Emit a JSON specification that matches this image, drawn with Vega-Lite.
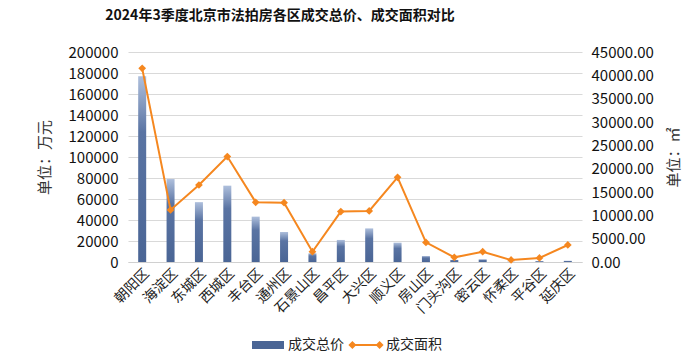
{
  "$schema": "https://vega.github.io/schema/vega-lite/v6.json",
  "width": 454,
  "height": 210,
  "autosize": "none",
  "padding": {"left": 128, "top": 52, "right": 118, "bottom": 102},
  "background": "white",
  "config": {
    "font": "Noto Sans CJK SC",
    "view": {"stroke": null},
    "axis": {"labelColor": "#333333", "titleColor": "#333333", "labelFont": "Noto Sans CJK SC", "titleFont": "Noto Sans CJK SC"}
  },
  "title": {
    "text": "2024年3季度北京市法拍房各区成交总价、成交面积对比",
    "fontSize": 14,
    "fontWeight": "bold",
    "color": "#111111",
    "anchor": "middle",
    "dx": -75,
    "offset": 22
  },
  "data": {
    "values": [
      {"区": "朝阳区", "系列": "成交总价", "值": 177000},
      {"区": "海淀区", "系列": "成交总价", "值": 79000},
      {"区": "东城区", "系列": "成交总价", "值": 57000},
      {"区": "西城区", "系列": "成交总价", "值": 72700},
      {"区": "丰台区", "系列": "成交总价", "值": 43200},
      {"区": "通州区", "系列": "成交总价", "值": 28600},
      {"区": "石景山区", "系列": "成交总价", "值": 8300},
      {"区": "昌平区", "系列": "成交总价", "值": 21000},
      {"区": "大兴区", "系列": "成交总价", "值": 32000},
      {"区": "顺义区", "系列": "成交总价", "值": 18400},
      {"区": "房山区", "系列": "成交总价", "值": 5700},
      {"区": "门头沟区", "系列": "成交总价", "值": 2000},
      {"区": "密云区", "系列": "成交总价", "值": 2600},
      {"区": "怀柔区", "系列": "成交总价", "值": 300},
      {"区": "平谷区", "系列": "成交总价", "值": 800},
      {"区": "延庆区", "系列": "成交总价", "值": 1200},
      {"区": "朝阳区", "系列": "成交面积", "值": 41500},
      {"区": "海淀区", "系列": "成交面积", "值": 11150},
      {"区": "东城区", "系列": "成交面积", "值": 16500},
      {"区": "西城区", "系列": "成交面积", "值": 22600},
      {"区": "丰台区", "系列": "成交面积", "值": 12800},
      {"区": "通州区", "系列": "成交面积", "值": 12700},
      {"区": "石景山区", "系列": "成交面积", "值": 2200},
      {"区": "昌平区", "系列": "成交面积", "值": 10800},
      {"区": "大兴区", "系列": "成交面积", "值": 10950},
      {"区": "顺义区", "系列": "成交面积", "值": 18150},
      {"区": "房山区", "系列": "成交面积", "值": 4200},
      {"区": "门头沟区", "系列": "成交面积", "值": 1000},
      {"区": "密云区", "系列": "成交面积", "值": 2200},
      {"区": "怀柔区", "系列": "成交面积", "值": 430},
      {"区": "平谷区", "系列": "成交面积", "值": 860},
      {"区": "延庆区", "系列": "成交面积", "值": 3650}
    ]
  },
  "encoding": {
    "x": {
      "field": "区",
      "type": "nominal",
      "sort": null,
      "scale": {"paddingInner": 0, "paddingOuter": 0},
      "axis": {
        "title": null,
        "labelAngle": -45,
        "labelFontSize": 14,
        "labelColor": "#222222",
        "ticks": false,
        "domain": true,
        "domainColor": "#d0d0d0",
        "labelPadding": 4
      }
    },
    "color": {
      "field": "系列",
      "type": "nominal",
      "scale": {"domain": ["成交总价", "成交面积"], "range": ["#4a6595", "#f5871f"]},
      "legend": {
        "title": null,
        "orient": "none",
        "legendX": 124,
        "legendY": 277,
        "direction": "horizontal",
        "labelFontSize": 14,
        "labelColor": "#222222",
        "symbolSize": 1024,
        "labelOffset": 4,
        "columnPadding": 4,
        "encode": {
          "symbols": {
            "update": {
              "shape": [
                {"test": "datum.value === '成交总价'", "value": "M-1,-0.25H1V0.25H-1Z"},
                {"value": "M-0.85,-0.06H0.85V0.06H-0.85Z M-0.85,-0.25L-0.6,0L-0.85,0.25L-1.1,0Z M0.85,-0.25L1.1,0L0.85,0.25L0.6,0Z"}
              ],
              "fill": [
                {"test": "datum.value === '成交总价'", "value": "#4a6595"},
                {"value": "#f5871f"}
              ],
              "stroke": [
                {"test": "datum.value === '成交总价'", "value": "#4a6595"},
                {"value": "#f5871f"}
              ],
              "strokeWidth": {"value": 0},
              "opacity": {"value": 1},
              "fillOpacity": {"value": 1}
            }
          }
        }
      }
    }
  },
  "layer": [
    {
      "transform": [{"filter": "datum['系列'] === '成交总价'"}],
      "mark": {"type": "bar", "size": 8},
      "encoding": {
        "y": {
          "field": "值",
          "type": "quantitative",
          "scale": {"domain": [0, 200000], "nice": false},
          "axis": {
            "title": "单位：万元",
            "titleFontSize": 15,
            "titleFontWeight": "normal",
            "titlePadding": 16,
            "values": [0, 20000, 40000, 60000, 80000, 100000, 120000, 140000, 160000, 180000, 200000],
            "format": "d",
            "labelFontSize": 15,
            "labelColor": "#111111",
            "labelPadding": 10,
            "ticks": false,
            "domain": false,
            "grid": true,
            "gridColor": "#d9d9d9",
            "gridWidth": 1
          }
        },
        "fill": {
          "value": {
            "x1": 0, "y1": 0, "x2": 0, "y2": 1,
            "gradient": "linear",
            "stops": [
              {"offset": 0, "color": "#aebfdc"},
              {"offset": 0.3, "color": "#5a74a3"},
              {"offset": 1, "color": "#4a6595"}
            ]
          }
        }
      }
    },
    {
      "transform": [{"filter": "datum['系列'] === '成交面积'"}],
      "mark": {
        "type": "line",
        "strokeWidth": 2,
        "point": {"shape": "diamond", "size": 60, "filled": true}
      },
      "encoding": {
        "y": {
          "field": "值",
          "type": "quantitative",
          "scale": {"domain": [0, 45000], "nice": false},
          "axis": {
            "orient": "right",
            "title": "单位：㎡",
            "titleAngle": 270,
            "titleBaseline": "bottom",
            "titleFontSize": 15,
            "titleFontWeight": "normal",
            "titlePadding": 28,
            "values": [0, 5000, 10000, 15000, 20000, 25000, 30000, 35000, 40000, 45000],
            "format": ".2f",
            "labelFontSize": 15,
            "labelColor": "#111111",
            "labelPadding": 9,
            "ticks": false,
            "domain": false,
            "grid": false
          }
        }
      }
    }
  ],
  "resolve": {"scale": {"y": "independent"}}
}
